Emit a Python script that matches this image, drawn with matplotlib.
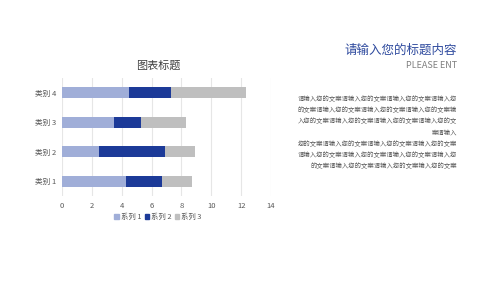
import matplotlib
matplotlib.use("Agg")
import matplotlib.pyplot as plt
from matplotlib.patches import Patch

plt.rcParams['font.family'] = ['Noto Sans CJK SC', 'DejaVu Sans']

categories = ["类别 1", "类别 2", "类别 3", "类别 4"]
series_names = ["系列 1", "系列 2", "系列 3"]
s1 = [4.3, 2.5, 3.5, 4.5]
s2 = [2.4, 4.4, 1.8, 2.8]
s3 = [2.0, 2.0, 3.0, 5.0]
colors = ["#A0AED8", "#1C3A98", "#BFBFBF"]
xticks = [0, 2, 4, 6, 8, 10, 12, 14]

chart_title = "图表标题"
header = "请输入您的标题内容"
subheader = "PLEASE ENT"
para_lines = [
    "请输入您的文案请输入您的文案请输入您的文案请输入您",
    "的文案请输入您的文案请输入您的文案请输入您的文案输",
    "入您的文案请输入您的文案请输入您的文案请输入您的文",
    "案请输入",
    "您的文案请输入您的文案请输入您的文案请输入您的文案",
    "请输入您的文案请输入您的文案请输入您的文案请输入您",
    "的文案请输入您的文案请输入您的文案输入您的文案",
]

fig = plt.figure(figsize=(5, 2.81), dpi=100)
ax = fig.add_axes([0.124, 0.3025, 0.418, 0.42])

y = list(range(len(categories)))
left = [0] * len(categories)
for vals, c, name in zip([s1, s2, s3], colors, series_names):
    ax.barh(y, vals, left=left, height=0.37, color=c, label=name, zorder=3)
    left = [l + v for l, v in zip(left, vals)]

ax.set_xlim(0, 14)
ax.set_ylim(-0.5, 3.5)
ax.set_xticks(xticks)
ax.set_yticks(y)
ax.set_yticklabels(categories)
ax.tick_params(axis='both', length=0, labelsize=5.5, colors="#595959", pad=4)
ax.grid(axis='x', color="#E6E6E6", linewidth=0.8, zorder=0)
for s in ax.spines.values():
    s.set_visible(False)

fig.text(0.316, 1 - 66 / 281, chart_title, ha='center', va='center', fontsize=8, color="#404040")

handles = [Patch(color=c) for c in colors]
fig.legend(handles, series_names, loc='center', bbox_to_anchor=(0.316, 1 - 217 / 281),
           ncol=3, frameon=False, fontsize=5.3, labelcolor="#595959",
           handlelength=0.6, handleheight=0.6, handletextpad=0.3, columnspacing=0.4)

fig.text(457 / 500, 1 - 50 / 281, header, ha='right', va='center', fontsize=9, color="#2E4A9E")
fig.text(457 / 500, 1 - 66 / 281, subheader, ha='right', va='center', fontsize=6.5, color="#7F7F7F")

y0 = 99
for i, line in enumerate(para_lines):
    yy = y0 + i * 11.2
    fig.text(457 / 500, 1 - yy / 281, line, ha='right', va='center', fontsize=4.55, color="#595959")

fig.savefig("out.png", dpi=100)
